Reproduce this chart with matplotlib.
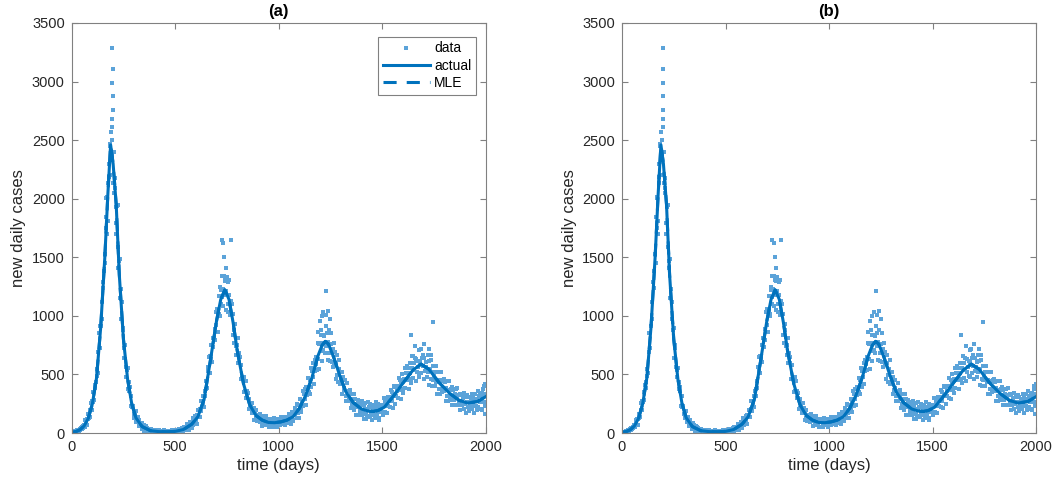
import numpy as np
import matplotlib
matplotlib.use("Agg")
import matplotlib.pyplot as plt

plt.rcParams["font.family"] = ["Liberation Sans", "DejaVu Sans"]

# smooth epidemic curve (actual) and MLE fit
curve_days = [0, 20, 40, 60, 80, 100, 120, 140, 160, 175, 188, 200, 215, 230, 250, 270,
              290, 310, 340, 380, 420, 460, 500, 540, 580, 610, 640, 670, 700, 720, 740,
              760, 780, 800, 830, 860, 890, 920, 950, 980, 1010, 1040, 1070, 1100, 1130,
              1160, 1190, 1210, 1225, 1240, 1265, 1295, 1325, 1360, 1400, 1430, 1456,
              1480, 1510, 1550, 1600, 1650, 1688, 1725, 1775, 1825, 1870, 1912, 1960, 2000]
actual_values = [5, 12, 28, 60, 125, 250, 470, 900, 1500, 2050, 2460, 2300, 1950, 1350, 800, 460,
                 250, 130, 55, 20, 12, 10, 14, 30, 75, 140, 290, 620, 960, 1140, 1222,
                 1140, 940, 700, 420, 240, 150, 110, 90, 88, 95, 110, 140, 210, 320,
                 470, 660, 750, 782, 760, 650, 490, 350, 260, 205, 188, 184,
                 192, 220, 305, 425, 540, 588, 545, 430, 340, 280, 256, 268, 310]
mle_values = list(actual_values)

# daily data, one point every 3 days (rows of 60 days)
data_values = [
    6, 3, 10, 7, 12, 5, 13, 15, 11, 22, 18, 28, 20, 33, 26, 42, 33, 52, 40, 60,
    69, 49, 108, 81, 119, 71, 122, 163, 130, 133, 199, 257, 195, 269, 265, 347, 279, 410, 380, 437,
    546, 489, 514, 690, 850, 722, 915, 915, 1116, 976, 1287, 1236, 1380, 1528, 1454, 1847, 1751, 2012, 1811, 2136,
    2184, 2447, 2201, 2571, 2334, 2367, 2399, 2134, 2395, 2091, 2181, 1796, 1932, 1938, 1588, 1411, 1468, 1487, 1152, 1226,
    977, 1118, 880, 899, 642, 728, 754, 563, 479, 534, 556, 377, 437, 356, 389, 233, 312, 221, 226, 230,
    162, 126, 166, 188, 97, 140, 105, 134, 56, 112, 66, 73, 77, 35, 82, 44, 66, 14, 46, 62,
    51, 16, 43, 23, 27, 30, 11, 34, 16, 28, 3, 19, 27, 10, 4, 18, 27, 7, 19, 11,
    22, 9, 18, 0, 12, 20, 6, 2, 13, 22, 4, 15, 9, 18, 0, 17, 7, 11, 15, 3,
    2, 15, 26, 6, 19, 13, 23, 3, 22, 13, 18, 24, 9, 35, 19, 32, 7, 27, 41, 20,
    8, 48, 28, 40, 54, 27, 78, 47, 76, 25, 68, 96, 53, 44, 88, 127, 68, 119, 100, 144,
    107, 153, 80, 144, 193, 139, 133, 209, 275, 188, 271, 247, 319, 218, 356, 317, 378, 441, 381, 564,
    533, 648, 516, 658, 630, 755, 605, 813, 737, 813, 891, 792, 1036, 918, 1056, 862, 1048, 1173, 1020, 996,
    1225, 1101, 1165, 1229, 1085, 1341, 1179, 1305, 1049, 1210, 1303, 1099, 1035, 1178, 1310, 1004, 1128, 1013, 1104, 836,
    1017, 769, 883, 933, 740, 663, 751, 809, 599, 685, 595, 651, 457, 580, 462, 467, 471, 353, 475, 359,
    446, 296, 360, 297, 339, 204, 292, 214, 228, 241, 167, 258, 178, 217, 115, 171, 199, 125, 103, 153,
    120, 133, 145, 93, 165, 106, 140, 62, 112, 141, 84, 66, 111, 141, 71, 112, 86, 119, 52, 114,
    47, 94, 122, 69, 55, 97, 130, 65, 108, 85, 118, 53, 115, 79, 94, 109, 66, 135, 87, 123,
    75, 122, 98, 136, 65, 133, 93, 111, 130, 84, 164, 112, 154, 79, 138, 176, 114, 100, 161, 212,
    163, 193, 129, 249, 174, 240, 128, 223, 288, 199, 181, 277, 357, 230, 332, 292, 377, 239, 395, 321,
    382, 468, 352, 330, 455, 559, 396, 528, 482, 596, 422, 623, 528, 590, 653, 538, 769, 634, 756, 550,
    769, 703, 833, 612, 840, 711, 767, 826, 679, 913, 742, 853, 619, 777, 879, 684, 611, 759, 850, 606,
    719, 567, 767, 599, 688, 465, 596, 665, 493, 436, 544, 622, 419, 523, 444, 519, 330, 476, 365, 387,
    454, 313, 269, 362, 430, 270, 360, 299, 363, 211, 337, 248, 270, 292, 199, 329, 230, 292, 157, 246,
    224, 284, 154, 266, 190, 212, 235, 157, 270, 184, 242, 122, 203, 252, 159, 133, 205, 263, 148, 220,
    137, 251, 169, 226, 110, 192, 242, 153, 130, 204, 263, 149, 223, 183, 246, 128, 243, 177, 206, 234,
    176, 152, 235, 300, 179, 266, 228, 299, 174, 304, 233, 269, 305, 222, 370, 273, 353, 213, 326, 398,
    394, 248, 400, 317, 358, 400, 302, 473, 363, 454, 293, 420, 500, 374, 343, 461, 556, 387, 508, 451,
    575, 452, 551, 372, 512, 601, 459, 423, 554, 658, 470, 600, 534, 636, 442, 630, 520, 566, 613, 488,
    477, 610, 715, 515, 644, 569, 665, 461, 644, 526, 565, 605, 475, 668, 523, 614, 414, 545, 620, 463,
    402, 571, 456, 490, 523, 397, 573, 436, 519, 334, 454, 523, 378, 337, 441, 522, 346, 449, 384, 461,
    361, 438, 271, 380, 441, 312, 273, 369, 442, 283, 377, 318, 390, 236, 370, 279, 309, 336, 239, 379,
    313, 381, 235, 321, 269, 337, 196, 323, 242, 270, 298, 208, 343, 244, 311, 173, 268, 323, 218, 189,
    304, 228, 258, 288, 201, 337, 242, 311, 175, 273, 332, 227, 197, 288, 358, 223, 315, 268, 341, 203,
    340, 200, 305, 372, 261, 232, 329,
]
data_days = np.arange(0, 2000, 3)

# isolated outliers
extra_days = [197, 198, 196, 200, 199, 196, 197, 194, 183, 178, 172, 163, 206, 212, 222, 168,
              727, 733, 768, 737, 745, 724, 750, 742, 757, 718,
              1227, 1216, 1240, 1230, 1210, 1200, 1250, 1190, 1205,
              1485, 1420,
              1640, 1744, 1660, 1700, 1725, 1680, 1645, 1735,
              1995, 1998, 1990]
extra_values = [3290, 3110, 2990, 2880, 2760, 2680, 2610, 2500, 2470, 2300, 1700, 1450, 2050, 1700, 1950, 2010,
                1650, 1620, 1650, 1500, 1410, 1340, 1330, 1300, 1290, 1250,
                1210, 1030, 1040, 1010, 1000, 960, 970, 860, 880,
                110, 120,
                840, 945, 740, 760, 720, 710, 660, 670,
                160, 420, 400]

panel_titles = ["(a)", "(b)"]

line_color = "#0072BD"
dot_color = "#5ba3d9"
text_color = "#262626"
axis_color = "#808080"

fig = plt.figure(figsize=(10.6, 4.86), dpi=100)
W, H = 1060, 486
axes_px = [(71.7, 23, 414, 410), (622, 23, 414, 410)]

for (x0, y0, w, h), title in zip(axes_px, panel_titles):
    ax = fig.add_axes([x0 / W, 1 - (y0 + h) / H, w / W, h / H])
    days_all = np.concatenate([data_days, extra_days])
    vals_all = np.concatenate([data_values, extra_values])
    ax.plot(days_all, vals_all, linestyle="none", marker="s", markersize=2.3,
            markeredgewidth=0, color=dot_color, label="data")
    ax.plot(curve_days, actual_values, color=line_color, lw=2.2, label="actual")
    ax.plot(curve_days, mle_values, color=line_color, lw=2.2,
            linestyle=(0, (4.3, 3.3)), label="MLE")

    ax.set_xlim(0, 2000)
    ax.set_ylim(0, 3500)
    ax.set_xticks(np.arange(0, 2001, 500))
    ax.set_yticks(np.arange(0, 3501, 500))
    ax.tick_params(direction="in", length=4.5, width=0.8, top=True, right=True,
                   labelsize=10.5, colors=axis_color, labelcolor=text_color, pad=5)
    for s in ax.spines.values():
        s.set_color(axis_color)
        s.set_linewidth(0.8)
    ax.set_xlabel("time (days)", fontsize=12, color=text_color, labelpad=3)
    ax.set_ylabel("new daily cases", fontsize=12, color=text_color, labelpad=4)
    ax.set_title(title, fontsize=12, fontweight="bold", color="black", pad=5)

    if title == "(a)":
        leg = ax.legend(loc="upper right", bbox_to_anchor=(0.977, 0.967),
                        borderaxespad=0, fontsize=10, handlelength=3.4,
                        numpoints=1, fancybox=False, framealpha=1,
                        edgecolor=axis_color, borderpad=0.35, labelspacing=0.25,
                        handletextpad=0.3)
        leg.get_frame().set_linewidth(0.8)

fig.savefig("out.png", dpi=100)
